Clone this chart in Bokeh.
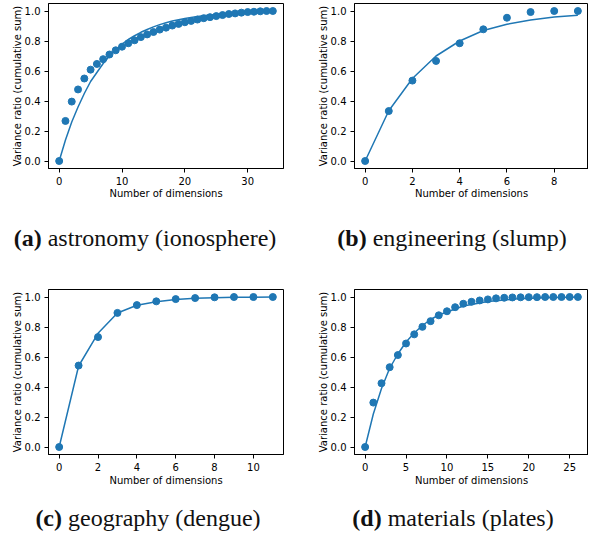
from bokeh.plotting import figure
from bokeh.layouts import column, row
from bokeh.models import Div, Range1d, FixedTicker, NumeralTickFormatter
from bokeh.embed import file_html
from bokeh.resources import INLINE

# ---------------- data ----------------
# (a) astronomy (ionosphere)
dims_a = list(range(35))
ratio_a = [0.0, 0.267, 0.396, 0.477, 0.55, 0.609, 0.647, 0.679, 0.71, 0.738,
           0.762, 0.785, 0.805, 0.826, 0.844, 0.86, 0.876, 0.889, 0.903, 0.914,
           0.925, 0.934, 0.943, 0.952, 0.959, 0.966, 0.973, 0.98, 0.984, 0.989,
           0.993, 0.995, 0.998, 1.0, 1.0]
fit_a = [0.0, 0.14, 0.26, 0.36, 0.45, 0.53, 0.59, 0.65, 0.70, 0.74,
         0.78, 0.81, 0.835, 0.858, 0.877, 0.894, 0.909, 0.922, 0.933, 0.942,
         0.95, 0.957, 0.963, 0.968, 0.973, 0.977, 0.98, 0.983, 0.985, 0.988,
         0.99, 0.991, 0.992, 0.994, 0.995]
xticks_a = [0, 10, 20, 30]

# (b) engineering (slump)
dims_b = list(range(10))
ratio_b = [0.0, 0.333, 0.536, 0.667, 0.785, 0.878, 0.955, 0.993, 1.0, 1.0]
fit_b = [0.0, 0.335, 0.55, 0.70, 0.80, 0.87, 0.912, 0.94, 0.96, 0.972]
xticks_b = [0, 2, 4, 6, 8]

# (c) geography (dengue)
dims_c = list(range(12))
ratio_c = [0.0, 0.543, 0.733, 0.894, 0.946, 0.971, 0.986, 0.993, 0.998, 1.0, 1.0, 1.0]
fit_c = [0.0, 0.54, 0.758, 0.893, 0.945, 0.968, 0.984, 0.991, 0.995, 0.998, 0.999, 1.0]
xticks_c = [0, 2, 4, 6, 8, 10]

# (d) materials (plates)
dims_d = list(range(27))
ratio_d = [0.0, 0.296, 0.425, 0.532, 0.613, 0.69, 0.751, 0.801, 0.839, 0.878,
           0.905, 0.932, 0.955, 0.968, 0.977, 0.984, 0.991, 0.995, 0.997, 0.998,
           0.999, 0.999, 1.0, 1.0, 1.0, 1.0, 1.0]
fit_d = [0.0, 0.22, 0.39, 0.525, 0.62, 0.70, 0.76, 0.81, 0.85, 0.88,
         0.90, 0.92, 0.94, 0.95, 0.96, 0.97, 0.975, 0.98, 0.985, 0.99,
         0.99, 0.993, 0.995, 0.996, 0.997, 0.998, 0.998]
xticks_d = [0, 5, 10, 15, 20, 25]

yticks = [0.0, 0.2, 0.4, 0.6, 0.8, 1.0]

captions = [("(a)", "astronomy (ionosphere)"), ("(b)", "engineering (slump)"),
            ("(c)", "geography (dengue)"), ("(d)", "materials (plates)")]

BLUE = "#1f77b4"
FONT = "DejaVu Sans"


def panel(x, pts, fit, xticks, width, height, left, right, top, bottom, xl_standoff):
    xmax = max(x)
    pad = 0.05 * xmax
    p = figure(width=width, height=height,
               x_range=Range1d(-pad, xmax + pad), y_range=Range1d(-0.05, 1.05),
               output_backend="svg", toolbar_location=None,
               min_border_left=left, min_border_right=right,
               min_border_top=top, min_border_bottom=bottom)
    p.line(x, fit, line_color=BLUE, line_width=1.5)
    p.scatter(x, pts, size=7, fill_color=BLUE, line_color=BLUE)
    p.grid.visible = False
    p.outline_line_color = "black"
    p.outline_line_width = 1
    p.background_fill_color = "white"
    p.border_fill_color = "white"
    p.xaxis.ticker = FixedTicker(ticks=xticks)
    p.yaxis.ticker = FixedTicker(ticks=yticks)
    p.yaxis.formatter = NumeralTickFormatter(format="0.0")
    p.xaxis.axis_label = "Number of dimensions"
    p.yaxis.axis_label = "Variance ratio (cumulative sum)"
    for ax in (p.xaxis, p.yaxis):
        ax.axis_line_color = "black"
        ax.axis_line_width = 1
        ax.major_tick_line_color = "black"
        ax.major_tick_out = 4
        ax.major_tick_in = 0
        ax.minor_tick_line_color = None
        ax.major_label_text_font = FONT
        ax.major_label_text_font_size = "10px"
        ax.major_label_text_color = "black"
        ax.axis_label_text_font = FONT
        ax.axis_label_text_font_size = "10px"
        ax.axis_label_text_font_style = "normal"
        ax.axis_label_text_color = "black"
        ax.major_label_standoff = 4
    p.xaxis.axis_label_standoff = xl_standoff
    p.yaxis.axis_label_standoff = -1
    return p


def caption(tag, text, width, height, pad_top, shift):
    html = ('<div style="display: block; box-sizing: border-box; '
            f'width: {width}px; font-family: \'Liberation Serif\', serif; font-size: 24px; '
            'line-height: 24px; text-align: center; white-space: nowrap; '
            f'position: relative; left: {shift}px; padding-top: {pad_top}px; color: #111;">'
            f'<b>{tag}</b> {text}</div>')
    return Div(text=html, width=width, height=height, margin=0)


fa = panel(dims_a, ratio_a, fit_a, xticks_a, 294, 210, 48, 11, 3, 42, 0)
fb = panel(dims_b, ratio_b, fit_b, xticks_b, 294, 210, 60, 0, 3, 42, 0)
fc = panel(dims_c, ratio_c, fit_c, xticks_c, 294, 222, 48, 11, 19, 38, 1)
fd = panel(dims_d, ratio_d, fit_d, xticks_d, 294, 222, 60, 0, 19, 38, 1)

ca = caption(*captions[0], 294, 60, 16, -2)
cb = caption(*captions[1], 294, 60, 16, 11)
cc = caption(*captions[2], 294, 36, 14, 1)
cd = caption(*captions[3], 294, 36, 14, 12)

layout = column(row(fa, fb, spacing=0), row(ca, cb, spacing=0),
                row(fc, fd, spacing=0), row(cc, cd, spacing=0),
                spacing=0)

open("out.html", "w").write(file_html(layout, INLINE))
